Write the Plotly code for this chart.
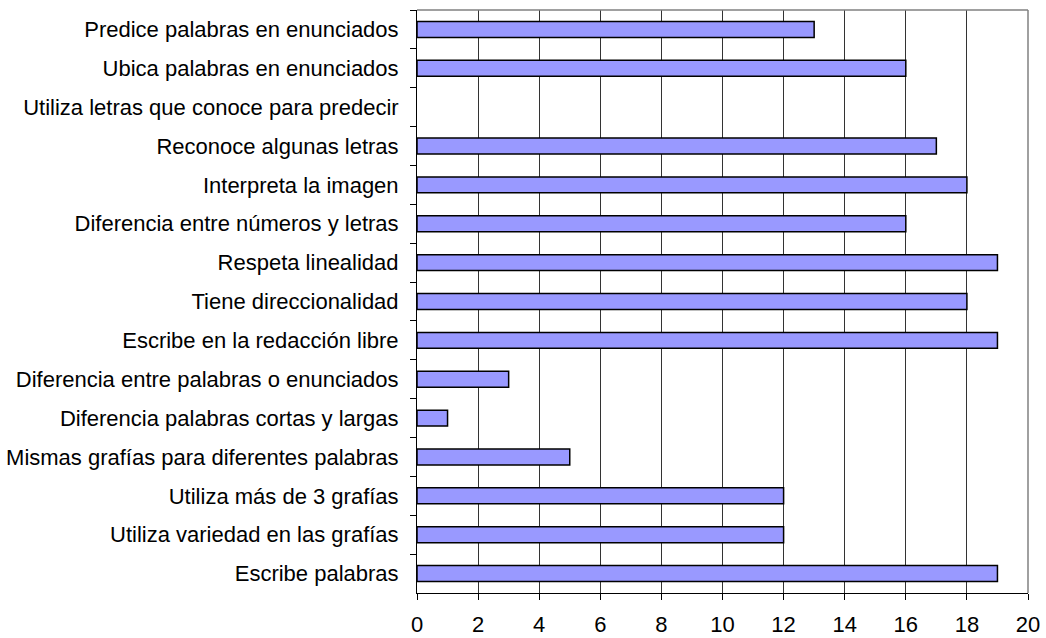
import plotly.graph_objects as go

categories = [
    "Predice palabras en enunciados",
    "Ubica palabras en enunciados",
    "Utiliza letras que conoce para predecir",
    "Reconoce algunas letras",
    "Interpreta la imagen",
    "Diferencia entre números y letras",
    "Respeta linealidad",
    "Tiene direccionalidad",
    "Escribe en la redacción libre",
    "Diferencia entre palabras o enunciados",
    "Diferencia palabras cortas y largas",
    "Mismas grafías para diferentes palabras",
    "Utiliza más de 3 grafías",
    "Utiliza variedad en las grafías",
    "Escribe palabras",
]
values = [13, 16, 0, 17, 18, 16, 19, 18, 19, 3, 1, 5, 12, 12, 19]
x_ticks = list(range(0, 21, 2))

line_widths = [1.5 if v > 0 else 0 for v in values]

fig = go.Figure(go.Bar(
    y=categories, x=values, orientation="h",
    marker=dict(color="#9999FF", line=dict(color="black", width=line_widths)),
    width=0.41,
))

fig.update_layout(
    width=1046, height=638,
    margin=dict(l=417, r=18, t=10, b=45),
    paper_bgcolor="white", plot_bgcolor="white",
    font=dict(family="Liberation Sans, Arial, sans-serif", size=22, color="black"),
    showlegend=False,
    shapes=[
        dict(type="line", xref="paper", yref="paper", x0=0, x1=1, y0=1, y1=1,
             line=dict(color="#808080", width=1.5), layer="above"),
        dict(type="line", xref="paper", yref="paper", x0=1, x1=1, y0=0, y1=1,
             line=dict(color="#808080", width=1.5), layer="above"),
    ],
)
fig.update_xaxes(
    range=[0, 20], tickvals=x_ticks, showgrid=True, gridcolor="#333333", gridwidth=1,
    showline=True, linecolor="black", linewidth=1, ticks="outside", ticklen=6,
    tickcolor="black", zeroline=False, tickfont=dict(size=22), ticklabelstandoff=6,
    automargin=False,
)
fig.update_yaxes(
    autorange="reversed", showline=True, linecolor="black", linewidth=1,
    ticks="outside", ticklen=6, tickcolor="black", tickson="boundaries",
    showgrid=False, tickfont=dict(size=22), ticklabelstandoff=13,
    automargin=False,
)
fig.write_html("out.html", config={"displayModeBar": False},
               post_script="document.body.style.margin='0';")
